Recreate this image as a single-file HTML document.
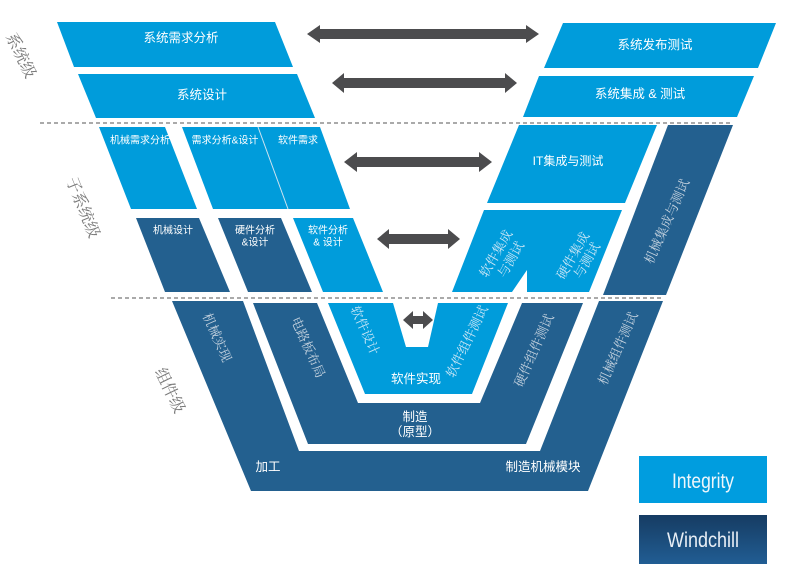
<!DOCTYPE html>
<html><head><meta charset="utf-8"><style>
html,body{margin:0;padding:0;background:#fff;}
svg{display:block;}
.w{fill:#fff;font-family:"Liberation Sans","Noto Sans CJK SC",sans-serif;}
.r{font-family:"Noto Serif CJK SC","Noto Sans CJK SC",serif;}
</style></head><body>
<svg width="789" height="575" viewBox="0 0 789 575" xmlns="http://www.w3.org/2000/svg">
<defs>
<linearGradient id="wg" x1="0" y1="0" x2="0" y2="1">
<stop offset="0" stop-color="#163c63"/><stop offset="1" stop-color="#215d93"/>
</linearGradient>
</defs>
<rect width="789" height="575" fill="#fff"/>

<!-- dashed lines -->
<line x1="40" y1="123" x2="733" y2="123" stroke="#555" stroke-width="1" stroke-dasharray="4,3"/>
<line x1="111" y1="298" x2="663" y2="298" stroke="#555" stroke-width="1" stroke-dasharray="4,3"/>

<!-- system level -->
<polygon points="57,22 275,22 293,67 74,67" fill="#009cdb"/>
<polygon points="78,74 297,74 315,118 96,118" fill="#009cdb"/>
<polygon points="563,23 776,23 758,68 544,68" fill="#009cdb"/>
<polygon points="539,76 754,76 737,117 523,117" fill="#009cdb"/>
<text class="w" x="181" y="38" font-size="12.5" text-anchor="middle" dominant-baseline="central">系统需求分析</text>
<text class="w" x="202" y="95" font-size="12.5" text-anchor="middle" dominant-baseline="central">系统设计</text>
<text class="w" x="655" y="45" font-size="12.5" text-anchor="middle" dominant-baseline="central">系统发布测试</text>
<text class="w" x="640" y="94" font-size="12.5" text-anchor="middle" dominant-baseline="central">系统集成 &amp; 测试</text>

<!-- subsystem level -->
<polygon points="99,127 165,127 197,209 131,209" fill="#009cdb"/>
<polygon points="182,127 320,127 350,209 213,209" fill="#009cdb"/>
<line x1="258" y1="127" x2="288" y2="209" stroke="#cfe3f0" stroke-width="1"/>
<polygon points="136,218 199,218 230,292 165,292" fill="#23608f"/>
<polygon points="218,218 281,218 312,292 248,292" fill="#23608f"/>
<polygon points="293,218 353,218 383,292 323,292" fill="#009cdb"/>
<text class="w" x="140" y="141" font-size="10" text-anchor="middle" dominant-baseline="central">机械需求分析</text>
<text class="w" x="225" y="141" font-size="10" text-anchor="middle" dominant-baseline="central">需求分析&amp;设计</text>
<text class="w" x="298" y="141" font-size="10" text-anchor="middle" dominant-baseline="central">软件需求</text>
<text class="w" x="173" y="231" font-size="10" text-anchor="middle" dominant-baseline="central">机械设计</text>
<text class="w" x="255" y="231" font-size="10" text-anchor="middle" dominant-baseline="central">硬件分析</text>
<text class="w" x="255" y="243" font-size="10" text-anchor="middle" dominant-baseline="central">&amp;设计</text>
<text class="w" x="328" y="231" font-size="10" text-anchor="middle" dominant-baseline="central">软件分析</text>
<text class="w" x="328" y="243" font-size="10" text-anchor="middle" dominant-baseline="central">&amp; 设计</text>

<polygon points="519,125 657,125 625,203 487,203" fill="#009cdb"/>
<polygon points="668,125 733,125 666,295 603,295" fill="#23608f"/>
<polygon points="484,210 622,210 589,292 527,292 527,270 512,292 452,292" fill="#009cdb"/>
<text class="w" x="568" y="161" font-size="12" text-anchor="middle" dominant-baseline="central">IT集成与测试</text>
<g class="r" fill="#c9e6f6" font-size="13" text-anchor="middle" dominant-baseline="central">
<text transform="translate(495,253) rotate(-60)">软件集成</text>
<text transform="translate(510,259) rotate(-60)">与测试</text>
<text transform="translate(572,255) rotate(-60)">硬件集成</text>
<text transform="translate(586,260) rotate(-60)">与测试</text>
</g>
<text class="r" transform="translate(666,221) rotate(-66)" fill="#c3d1de" font-size="13" text-anchor="middle" dominant-baseline="central">机械集成与测试</text>

<!-- component level -->
<polygon points="172,301 243,301 299,451 540,451 599,301 663,301 588,491 251,491" fill="#23608f"/>
<polygon points="253,303 317,303 358,403 480,403 522,303 583,303 526,444 308,444" fill="#23608f"/>
<polygon points="328,303 393,303 406,347 428,347 438,303 508,303 472,394 365,394" fill="#009cdb"/>
<text class="w" x="268" y="467" font-size="12.5" text-anchor="middle" dominant-baseline="central">加工</text>
<text class="w" x="543" y="467" font-size="12.5" text-anchor="middle" dominant-baseline="central">制造机械模块</text>
<text class="w" x="415" y="417" font-size="12.5" text-anchor="middle" dominant-baseline="central">制造</text>
<text class="w" x="415" y="432" font-size="12.5" text-anchor="middle" dominant-baseline="central">（原型）</text>
<text class="w" x="416" y="379" font-size="12.5" text-anchor="middle" dominant-baseline="central">软件实现</text>
<g class="r" font-size="13" text-anchor="middle" dominant-baseline="central">
<text transform="translate(218,337) rotate(66)" fill="#c3d1de">机械实现</text>
<text transform="translate(309,347) rotate(66)" fill="#c3d1de">电路板布局</text>
<text transform="translate(366,330) rotate(66)" fill="#c9e6f6">软件设计</text>
<text transform="translate(466,341) rotate(-64)" fill="#c9e6f6">软件组件测试</text>
<text transform="translate(533,350) rotate(-66)" fill="#c3d1de">硬件组件测试</text>
<text transform="translate(617,348) rotate(-66)" fill="#c3d1de">机械组件测试</text>
</g>

<!-- level labels -->
<g class="r" fill="#7a7a7a" font-size="16" text-anchor="middle" dominant-baseline="central">
<text transform="translate(22,55) rotate(64)">系统级</text>
<text transform="translate(84,207) rotate(68)">子系统级</text>
<text transform="translate(171,390) rotate(64)">组件级</text>
</g>

<!-- arrows -->
<g fill="#4c4c4e">
<polygon points="307,34 320,25 320,29 526,29 526,25 539,34 526,43 526,39 320,39 320,43"/>
<polygon points="332,83 344,73 344,78 505,78 505,73 517,83 505,93 505,88 344,88 344,93"/>
<polygon points="344,162 357,152 357,157 479,157 479,152 492,162 479,172 479,167 357,167 357,172"/>
<polygon points="377,239 389,229 389,234 448,234 448,229 460,239 448,249 448,244 389,244 389,249"/>
<polygon points="403,320 413,311 413,316 423,316 423,311 433,320 423,329 423,324 413,324 413,329"/>
</g>

<!-- legend -->
<rect x="639" y="456" width="128" height="47" fill="#009ddf"/>
<rect x="639" y="515" width="128" height="49" fill="url(#wg)"/>
<text x="703" y="488" font-family="Liberation Sans, sans-serif" font-size="21" fill="#eef6fb" text-anchor="middle" textLength="62" lengthAdjust="spacingAndGlyphs">Integrity</text>
<text x="703" y="547" font-family="Liberation Sans, sans-serif" font-size="21" fill="#e8eef5" text-anchor="middle" textLength="72" lengthAdjust="spacingAndGlyphs">Windchill</text>
</svg>
</body></html>
